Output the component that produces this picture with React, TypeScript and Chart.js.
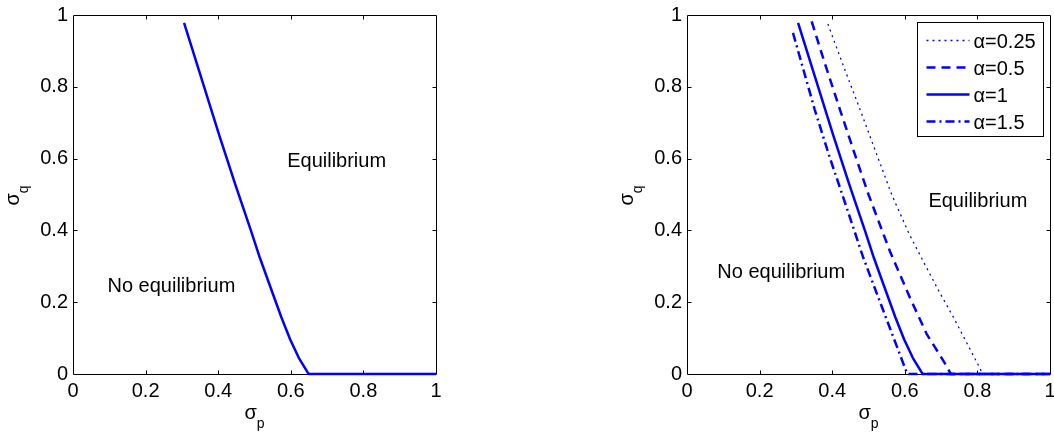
import React, { useEffect, useRef } from "react";
import { Chart, registerables } from "chart.js";

Chart.register(...registerables);

const FONT = "'Liberation Sans', Arial, Helvetica, sans-serif";
const BLUE = "#0000ff";

// ---- ticks ----
const X_TICKS = [0, 0.2, 0.4, 0.6, 0.8, 1];
const Y_TICKS = [0, 0.2, 0.4, 0.6, 0.8, 1];

// ---- axis titles (main symbol, subscript) ----
const X_TITLE = ["σ", "p"];
const Y_TITLE = ["σ", "q"];

// ---- left panel: equilibrium boundary ----
const LEFT_P = [0.306, 0.358, 0.403, 0.447, 0.49, 0.515, 0.55, 0.574, 0.598, 0.622, 0.646, 0.65, 1];
const LEFT_Q = [0.978, 0.81, 0.665, 0.528, 0.4, 0.323, 0.225, 0.158, 0.097, 0.045, 0.005, 0, 0];

// ---- right panel: boundaries for several alpha ----
const SERIES_LABELS = ["α=0.25", "α=0.5", "α=1", "α=1.5"];
const P_A025 = [0.388, 0.432, 0.477, 0.521, 0.565, 0.612, 0.66, 0.697, 0.734, 0.77, 0.807, 0.814, 1];
const Q_A025 = [0.975, 0.855, 0.736, 0.616, 0.497, 0.39, 0.296, 0.225, 0.158, 0.088, 0.016, 0, 0];
const P_A05 = [0.3435, 0.382, 0.4215, 0.461, 0.5, 0.559, 0.614, 0.66, 0.711, 0.727, 1];
const Q_A05 = [0.982, 0.858, 0.736, 0.616, 0.5, 0.342, 0.213, 0.112, 0.029, 0, 0];
const P_A1 = [0.306, 0.358, 0.403, 0.447, 0.49, 0.515, 0.55, 0.574, 0.598, 0.622, 0.646, 0.65, 1];
const Q_A1 = [0.978, 0.81, 0.665, 0.528, 0.4, 0.323, 0.225, 0.158, 0.097, 0.045, 0.005, 0, 0];
const P_A15 = [0.292, 0.352, 0.392, 0.432, 0.486, 0.541, 0.596, 0.607, 1];
const Q_A15 = [0.95, 0.736, 0.607, 0.487, 0.323, 0.176, 0.029, 0, 0];

// ---- text annotations (data coordinates, baseline-left anchored) ----
const LEFT_NOTE_TEXT = ["Equilibrium", "No equilibrium"];
const LEFT_NOTE_X = [0.59, 0.095];
const LEFT_NOTE_Y = [0.576, 0.229];
const RIGHT_NOTE_TEXT = ["Equilibrium", "No equilibrium"];
const RIGHT_NOTE_X = [0.665, 0.0835];
const RIGHT_NOTE_Y = [0.466, 0.268];

const SERIES_STYLES = [
  { dash: [2, 4], width: 1.3 },
  { dash: [9, 6], width: 2.5 },
  { dash: [] as number[], width: 2.5 },
  { dash: [9, 4, 2, 4], width: 2.5 },
];

const toPoints = (P: number[], Q: number[]) => P.map((p, i) => ({ x: p, y: Q[i] }));

function drawTitle(ctx: CanvasRenderingContext2D, parts: string[], cx: number, cy: number, rotate: boolean) {
  ctx.save();
  ctx.fillStyle = "#000";
  ctx.textBaseline = "alphabetic";
  ctx.textAlign = "left";
  ctx.font = `20px ${FONT}`;
  const w1 = ctx.measureText(parts[0]).width;
  ctx.font = `14px ${FONT}`;
  const w2 = ctx.measureText(parts[1]).width;
  const total = w1 + w2;
  ctx.translate(cx, cy);
  if (rotate) ctx.rotate(-Math.PI / 2);
  ctx.font = `20px ${FONT}`;
  ctx.fillText(parts[0], -total / 2, 0);
  ctx.font = `14px ${FONT}`;
  ctx.fillText(parts[1], -total / 2 + w1, 9);
  ctx.restore();
}

interface PanelSpec {
  canvasLeft: number;
  canvasWidth: number;
  areaLeft: number;
  areaRight: number;
  top: number;
  datasets: any[];
  noteText: string[];
  noteX: number[];
  noteY: number[];
  legend: boolean;
}

function makeConfig(spec: PanelSpec): any {
  const decor = {
    id: "decor",
    beforeDatasetsDraw(chart: any) {
      const { ctx, chartArea: a, scales } = chart;
      ctx.save();
      ctx.strokeStyle = "#000";
      ctx.lineWidth = 1;
      const L = Math.round(a.left) + 0.5;
      const T = Math.round(a.top) + 0.5;
      const R = Math.round(a.right) + 0.5;
      const B = Math.round(a.bottom) + 0.5;
      ctx.beginPath();
      ctx.rect(L, T, R - L, B - T);
      ctx.stroke();
      const tl = 4;
      ctx.beginPath();
      X_TICKS.slice(1, -1).forEach((v) => {
        const px = Math.round(scales.x.getPixelForValue(v)) + 0.5;
        ctx.moveTo(px, B);
        ctx.lineTo(px, B - tl);
        ctx.moveTo(px, T);
        ctx.lineTo(px, T + tl);
      });
      Y_TICKS.slice(1, -1).forEach((v) => {
        const py = Math.round(scales.y.getPixelForValue(v)) + 0.5;
        ctx.moveTo(L, py);
        ctx.lineTo(L + tl, py);
        ctx.moveTo(R, py);
        ctx.lineTo(R - tl, py);
      });
      ctx.stroke();
      ctx.restore();
    },
    afterDatasetsDraw(chart: any) {
      const { ctx, chartArea: a, scales } = chart;
      ctx.save();
      ctx.fillStyle = "#000";
      ctx.font = `20px ${FONT}`;
      ctx.textAlign = "left";
      ctx.textBaseline = "alphabetic";
      spec.noteText.forEach((t, i) => {
        ctx.fillText(t, scales.x.getPixelForValue(spec.noteX[i]), scales.y.getPixelForValue(spec.noteY[i]));
      });
      if (spec.legend) {
        const w = 126;
        const h = 114;
        const bx = Math.round(a.right - 7 - w) + 0.5;
        const by = Math.round(a.top + 7) + 0.5;
        ctx.fillStyle = "#fff";
        ctx.fillRect(bx, by, w, h);
        ctx.strokeStyle = "#000";
        ctx.lineWidth = 1;
        ctx.setLineDash([]);
        ctx.strokeRect(bx, by, w, h);
        chart.data.datasets.forEach((ds: any, i: number) => {
          const ry = by + 18 + i * 27;
          ctx.save();
          ctx.strokeStyle = ds.borderColor;
          ctx.lineWidth = ds.borderWidth;
          ctx.setLineDash(ds.borderDash || []);
          ctx.beginPath();
          ctx.moveTo(bx + 9, ry);
          ctx.lineTo(bx + 52, ry);
          ctx.stroke();
          ctx.restore();
          ctx.fillStyle = "#000";
          ctx.font = `20px ${FONT}`;
          ctx.fillText(ds.label, bx + 56, ry + 7);
        });
      }
      ctx.restore();
    },
    afterDraw(chart: any) {
      const { ctx, chartArea: a } = chart;
      drawTitle(ctx, X_TITLE, (a.left + a.right) / 2, a.bottom + 45, false);
      drawTitle(ctx, Y_TITLE, a.left - 53.7, (a.top + a.bottom) / 2 + 1, true);
    },
  };

  const tickFont = { family: FONT, size: 20, lineHeight: 1 };
  return {
    type: "line",
    data: { datasets: spec.datasets },
    options: {
      animation: false,
      responsive: false,
      events: [],
      layout: {
        padding: { left: 0, right: spec.canvasWidth - spec.areaRight, top: spec.top, bottom: 0 },
      },
      plugins: { legend: { display: false }, tooltip: { enabled: false } },
      elements: { point: { radius: 0 }, line: { tension: 0 } },
      scales: {
        x: {
          type: "linear",
          min: 0,
          max: 1,
          afterBuildTicks: (s: any) => {
            s.ticks = X_TICKS.map((v) => ({ value: v }));
          },
          afterFit: (s: any) => {
            s.height = 60;
          },
          ticks: {
            font: tickFont,
            color: "#000",
            padding: 7,
            maxRotation: 0,
            autoSkip: false,
            callback: (v: any) => String(v),
          },
          grid: { display: false, drawTicks: false },
          border: { display: false },
        },
        y: {
          type: "linear",
          min: 0,
          max: 1,
          afterBuildTicks: (s: any) => {
            s.ticks = Y_TICKS.map((v) => ({ value: v }));
          },
          afterFit: (s: any) => {
            s.width = spec.areaLeft;
          },
          ticks: {
            font: tickFont,
            color: "#000",
            padding: 5,
            autoSkip: false,
            callback: (v: any) => String(v),
          },
          grid: { display: false, drawTicks: false },
          border: { display: false },
        },
      },
    },
    plugins: [decor],
  };
}

function makeDataset(label: string, P: number[], Q: number[], style: { dash: number[]; width: number }) {
  return {
    label,
    data: toPoints(P, Q),
    borderColor: BLUE,
    backgroundColor: BLUE,
    borderWidth: style.width,
    borderDash: style.dash,
    borderJoinStyle: "round",
    pointRadius: 0,
    fill: false,
    clip: 6,
  };
}

function Panel({ spec }: { spec: PanelSpec }) {
  const ref = useRef<HTMLCanvasElement>(null);
  useEffect(() => {
    if (!ref.current) return;
    const chart = new Chart(ref.current, makeConfig(spec));
    return () => chart.destroy();
  }, []);
  return (
    <canvas
      ref={ref}
      width={spec.canvasWidth}
      height={434}
      style={{ position: "absolute", left: spec.canvasLeft, top: 0, width: spec.canvasWidth, height: 434 }}
    />
  );
}

export default function App() {
  const leftSpec: PanelSpec = {
    canvasLeft: 0,
    canvasWidth: 527,
    areaLeft: 73,
    areaRight: 436,
    top: 11,
    datasets: [makeDataset("α=1", LEFT_P, LEFT_Q, SERIES_STYLES[2])],
    noteText: LEFT_NOTE_TEXT,
    noteX: LEFT_NOTE_X,
    noteY: LEFT_NOTE_Y,
    legend: false,
  };
  const rightSpec: PanelSpec = {
    canvasLeft: 527,
    canvasWidth: 540,
    areaLeft: 160,
    areaRight: 523,
    top: 12,
    datasets: [
      makeDataset(SERIES_LABELS[0], P_A025, Q_A025, SERIES_STYLES[0]),
      makeDataset(SERIES_LABELS[1], P_A05, Q_A05, SERIES_STYLES[1]),
      makeDataset(SERIES_LABELS[2], P_A1, Q_A1, SERIES_STYLES[2]),
      makeDataset(SERIES_LABELS[3], P_A15, Q_A15, SERIES_STYLES[3]),
    ],
    noteText: RIGHT_NOTE_TEXT,
    noteX: RIGHT_NOTE_X,
    noteY: RIGHT_NOTE_Y,
    legend: true,
  };
  return (
    <div
      style={{
        position: "fixed",
        left: 0,
        top: 0,
        width: 1054,
        height: 434,
        overflow: "hidden",
        background: "#fff",
      }}
    >
      <Panel spec={leftSpec} />
      <Panel spec={rightSpec} />
    </div>
  );
}
